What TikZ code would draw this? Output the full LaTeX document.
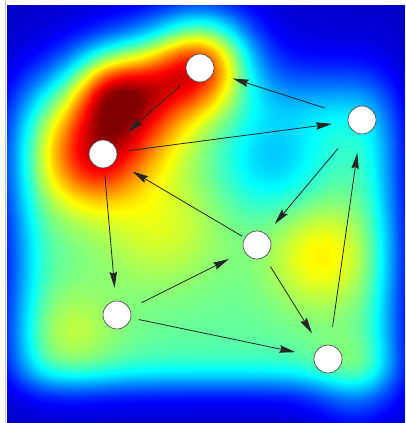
\documentclass[tikz,border=0pt]{standalone}
\usepackage{pgfplots}
\pgfplotsset{compat=1.18}
\usetikzlibrary{arrows.meta}
\begin{document}
\begin{tikzpicture}[x=1pt,y=1pt,
  vtx/.style={circle, draw=black!70, line width=0.7pt, fill=white, minimum size=28pt, inner sep=0pt},
  arr/.style={draw=black!85, line width=0.8pt, -{Stealth[length=16pt,width=7.5pt,inset=2pt]}}]
\useasboundingbox (0,0) rectangle (405,423);
\fill[white] (0,0) rectangle (405,423);
\draw[black!22, line width=1.2pt] (5.2,0) -- (5.2,423);
\begin{axis}[at={(7pt,0pt)}, anchor=south west, scale only axis,
  width=398pt, height=418pt, xmin=7, xmax=405, ymin=0, ymax=418,
  hide axis, view={0}{90}, colormap/jet, point meta min=0, point meta max=1,
  declare function={
    Lg(\t)=1/(1+exp(-\t));
    Gs(\gx,\gy,\ga,\gb,\gs)=exp(-((\gx-\ga)^2+(\gy-\gb)^2)/(2*\gs*\gs));
    F(\X,\Y)=0.07
      +0.4*Lg((\X-22)/13)*Lg((388-\X)/12)*Lg((\Y-90)/20)*Lg((382-\Y)/11)
      +0.45*exp(-(((\X-122)*0.78-(\Y-115)*0.625)^2/7688+((\X-122)*0.625+(\Y-115)*0.78)^2/3200))
      +0.5*Gs(\X,\Y,205,62,32)
      +0.3*Gs(\X,\Y,110,85,28)
      +0.16*Gs(\X,\Y,162,72,28)
      +0.15*Gs(\X,\Y,95,165,30)
      -0.14*Gs(\X,\Y,272,162,38)
      +0.17*Gs(\X,\Y,322,255,38)
      +0.12*Gs(\X,\Y,160,225,45)
      +0.1*Gs(\X,\Y,68,335,35)
      +0.12*Gs(\X,\Y,355,385,30);
  }]
\addplot3[surf, shader=interp, domain=7:405, y domain=0:418, samples=61, samples y=64]
  {min(1,max(0,F(x,423-y)))};
\end{axis}
\node[vtx] (A) at (200,355) {};
\node[vtx] (B) at (103,269) {};
\node[vtx] (C) at (362,303) {};
\node[vtx] (D) at (257,178) {};
\node[vtx] (E) at (117,108) {};
\node[vtx] (F) at (328,64) {};
\draw[arr, shorten <=12pt, shorten >=19pt] (A) -- (B);
\draw[arr, shorten <=25pt, shorten >=20pt] (C) -- (A);
\draw[arr, shorten <=11pt, shorten >=16pt] (B) -- (C);
\draw[arr, shorten <=23pt, shorten >=13pt] (C) -- (D);
\draw[arr, shorten <=3pt, shorten >=20pt] (D) -- (B);
\draw[arr, shorten <=7pt, shorten >=13pt] (B) -- (E);
\draw[arr, shorten <=13pt, shorten >=17pt] (E) -- (D);
\draw[arr, shorten <=8pt, shorten >=19pt] (E) -- (F);
\draw[arr, shorten <=11pt, shorten >=16pt] (D) -- (F);
\draw[arr, shorten <=18pt, shorten >=19pt] (F) -- (C);
\end{tikzpicture}
\end{document}
